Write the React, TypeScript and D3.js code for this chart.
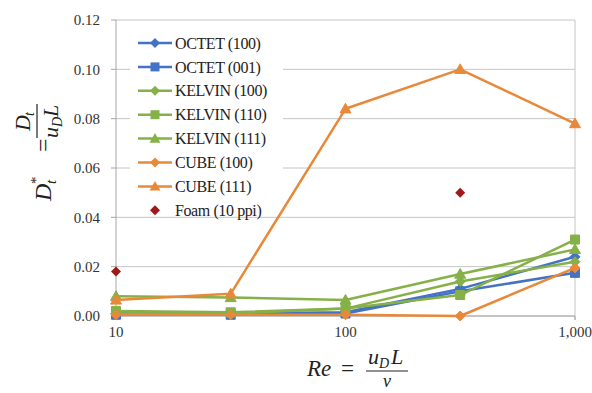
import React from 'react';
import * as d3 from 'd3';

// Reynolds numbers sampled by the simulations
const reynolds = [10, 31.6, 100, 316, 1000];

// Dimensionless transverse dispersion D*_t per structure / flow direction
const octet100 = [0.001, 0.001, 0.0015, 0.011, 0.024];
const octet001 = [0.0005, 0.0005, 0.001, 0.010, 0.0175];
const kelvin100 = [0.001, 0.001, 0.003, 0.014, 0.022];
const kelvin110 = [0.002, 0.0015, 0.003, 0.0085, 0.031];
const kelvin111 = [0.008, 0.0075, 0.0065, 0.017, 0.027];
const cube100 = [0.0005, 0.0005, 0.0005, 0.0, 0.0195];
const cube111 = [0.0065, 0.009, 0.084, 0.1, 0.078];

// Experimental foam points
const foamRe = [10, 316];
const foamValues = [0.018, 0.05];

const yTicks = [0, 0.02, 0.04, 0.06, 0.08, 0.1, 0.12];
const xTicks = [10, 100, 1000];
const xTickLabels = ['10', '100', '1,000'];

const BLUE = '#4472C4';
const GREEN = '#86B048';
const ORANGE = '#E8893A';
const FOAM = '#A01818';

type Marker = 'diamond' | 'square' | 'triangle';

const series: { name: string; values: number[]; color: string; marker: Marker }[] = [
  { name: 'OCTET (100)', values: octet100, color: BLUE, marker: 'diamond' },
  { name: 'OCTET (001)', values: octet001, color: BLUE, marker: 'square' },
  { name: 'KELVIN (100)', values: kelvin100, color: GREEN, marker: 'diamond' },
  { name: 'KELVIN (110)', values: kelvin110, color: GREEN, marker: 'square' },
  { name: 'KELVIN (111)', values: kelvin111, color: GREEN, marker: 'triangle' },
  { name: 'CUBE (100)', values: cube100, color: ORANGE, marker: 'diamond' },
  { name: 'CUBE (111)', values: cube111, color: ORANGE, marker: 'triangle' },
];
const foamName = 'Foam (10 ppi)';

const W = 592;
const H = 393;
const plot = { left: 116, right: 575, top: 20, bottom: 316 };

const x = d3.scaleLog().domain([10, 1000]).range([plot.left, plot.right]);
const y = d3.scaleLinear().domain([0, 0.12]).range([plot.bottom, plot.top]);
const fmt = d3.format('.2f');

function markerPath(kind: Marker, cx: number, cy: number): string {
  if (kind === 'diamond') {
    const r = 5;
    return `M${cx},${cy - r}L${cx + r},${cy}L${cx},${cy + r}L${cx - r},${cy}Z`;
  }
  if (kind === 'square') {
    const r = 4.5;
    return `M${cx - r},${cy - r}H${cx + r}V${cy + r}H${cx - r}Z`;
  }
  const s = 5.5;
  return `M${cx},${cy - s}L${cx + s},${cy + s * 0.75}L${cx - s},${cy + s * 0.75}Z`;
}

const serif = '"Liberation Serif", "Times New Roman", serif';
const math = '"Liberation Serif", "DejaVu Serif", serif';

export default function App() {
  const line = d3
    .line<number>()
    .x((_, i) => x(reynolds[i]))
    .y((v) => y(v));

  const legendX = 138;
  const legendY0 = 43;
  const legendStep = 23.9;

  return (
    <svg
      width={W}
      height={H}
      viewBox={`0 0 ${W} ${H}`}
      style={{ position: 'absolute', left: 0, top: 0, background: '#fff' }}
    >
      <rect x={0} y={0} width={W} height={H} fill="#fff" />

      {/* horizontal gridlines */}
      {yTicks.map((t) => (
        <line key={t} x1={plot.left} x2={plot.right} y1={y(t)} y2={y(t)} stroke="#C4C4C4" strokeWidth={1} />
      ))}
      {/* right border of plot */}
      <line x1={plot.right} x2={plot.right} y1={plot.top} y2={plot.bottom + 4} stroke="#C4C4C4" strokeWidth={1} />

      {/* y axis */}
      <line x1={plot.left} x2={plot.left} y1={plot.top} y2={plot.bottom} stroke="#A6A6A6" strokeWidth={1} />
      {yTicks.map((t) => (
        <g key={t}>
          <line x1={plot.left - 5} x2={plot.left} y1={y(t)} y2={y(t)} stroke="#A6A6A6" />
          <text x={100} y={y(t)} dy="0.35em" textAnchor="end" fontFamily={serif} fontSize={15} fill="#333">
            {fmt(t)}
          </text>
        </g>
      ))}

      {/* x axis */}
      <line x1={plot.left} x2={plot.right} y1={plot.bottom} y2={plot.bottom} stroke="#A6A6A6" strokeWidth={1} />
      {xTicks.map((t, i) => (
        <g key={t}>
          <line x1={x(t)} x2={x(t)} y1={plot.bottom} y2={plot.bottom + 4} stroke="#A6A6A6" />
          <text x={x(t)} y={337} textAnchor="middle" fontFamily={serif} fontSize={15} fill="#333">
            {xTickLabels[i]}
          </text>
        </g>
      ))}

      {/* legend background */}
      <rect x={130} y={28} width={153} height={187} fill="#fff" />

      {/* series */}
      {series.map((s) => (
        <g key={s.name}>
          <path d={line(s.values) || ''} fill="none" stroke={s.color} strokeWidth={2.5} strokeLinejoin="round" />
          {s.values.map((v, i) => (
            <path key={i} d={markerPath(s.marker, x(reynolds[i]), y(v))} fill={s.color} stroke={s.color} strokeWidth={1} />
          ))}
        </g>
      ))}
      {foamRe.map((r, i) => (
        <path key={r} d={markerPath('diamond', x(r), y(foamValues[i]))} fill={FOAM} />
      ))}

      {/* legend */}
      {series.map((s, i) => {
        const ly = legendY0 + i * legendStep;
        return (
          <g key={s.name}>
            <line x1={legendX} x2={legendX + 34} y1={ly} y2={ly} stroke={s.color} strokeWidth={2.5} />
            <path d={markerPath(s.marker, legendX + 17, ly)} fill={s.color} />
            <text x={legendX + 37} y={ly} dy="0.35em" fontFamily={serif} fontSize={16} fill="#222" letterSpacing={-0.4}>
              {s.name}
            </text>
          </g>
        );
      })}
      <g>
        <path d={markerPath('diamond', legendX + 17, legendY0 + 7 * legendStep)} fill={FOAM} />
        <text
          x={legendX + 37}
          y={legendY0 + 7 * legendStep}
          dy="0.35em"
          fontFamily={serif}
          fontSize={16}
          fill="#222"
          letterSpacing={-0.4}
        >
          {foamName}
        </text>
      </g>

      {/* y axis title: D*_t = D_t / (u_D L) */}
      <g transform="translate(51,153) rotate(-90)" fontFamily={math} fontStyle="italic" fill="#222">
        <text x={-48} y={0} fontSize={24}>
          D
        </text>
        <text x={-31} y={-10} fontSize={15} fontStyle="normal">
          *
        </text>
        <text x={-31} y={5} fontSize={15}>
          t
        </text>
        <text x={1} y={0} fontSize={24} fontStyle="normal">
          =
        </text>
        <line x1={15} x2={49} y1={-14} y2={-14} stroke="#222" strokeWidth={1.2} />
        <text x={22} y={-21} fontSize={22}>
          D
        </text>
        <text x={37} y={-17} fontSize={14}>
          t
        </text>
        <text x={15} y={7} fontSize={22}>
          u
        </text>
        <text x={26} y={11} fontSize={14}>
          D
        </text>
        <text x={36} y={7} fontSize={22}>
          L
        </text>
      </g>

      {/* x axis title: Re = u_D L / nu */}
      <g fontFamily={math} fontStyle="italic" fill="#222">
        <text x={307} y={376} fontSize={23}>
          Re
        </text>
        <text x={341} y={376} fontSize={23} fontStyle="normal">
          =
        </text>
        <line x1={366} x2={408} y1={371} y2={371} stroke="#222" strokeWidth={1.2} />
        <text x={368} y={364} fontSize={22}>
          u
        </text>
        <text x={379} y={368} fontSize={14}>
          D
        </text>
        <text x={391} y={364} fontSize={22}>
          L
        </text>
        <text x={387} y={387} fontSize={18} textAnchor="middle">
          ν
        </text>
      </g>
    </svg>
  );
}
